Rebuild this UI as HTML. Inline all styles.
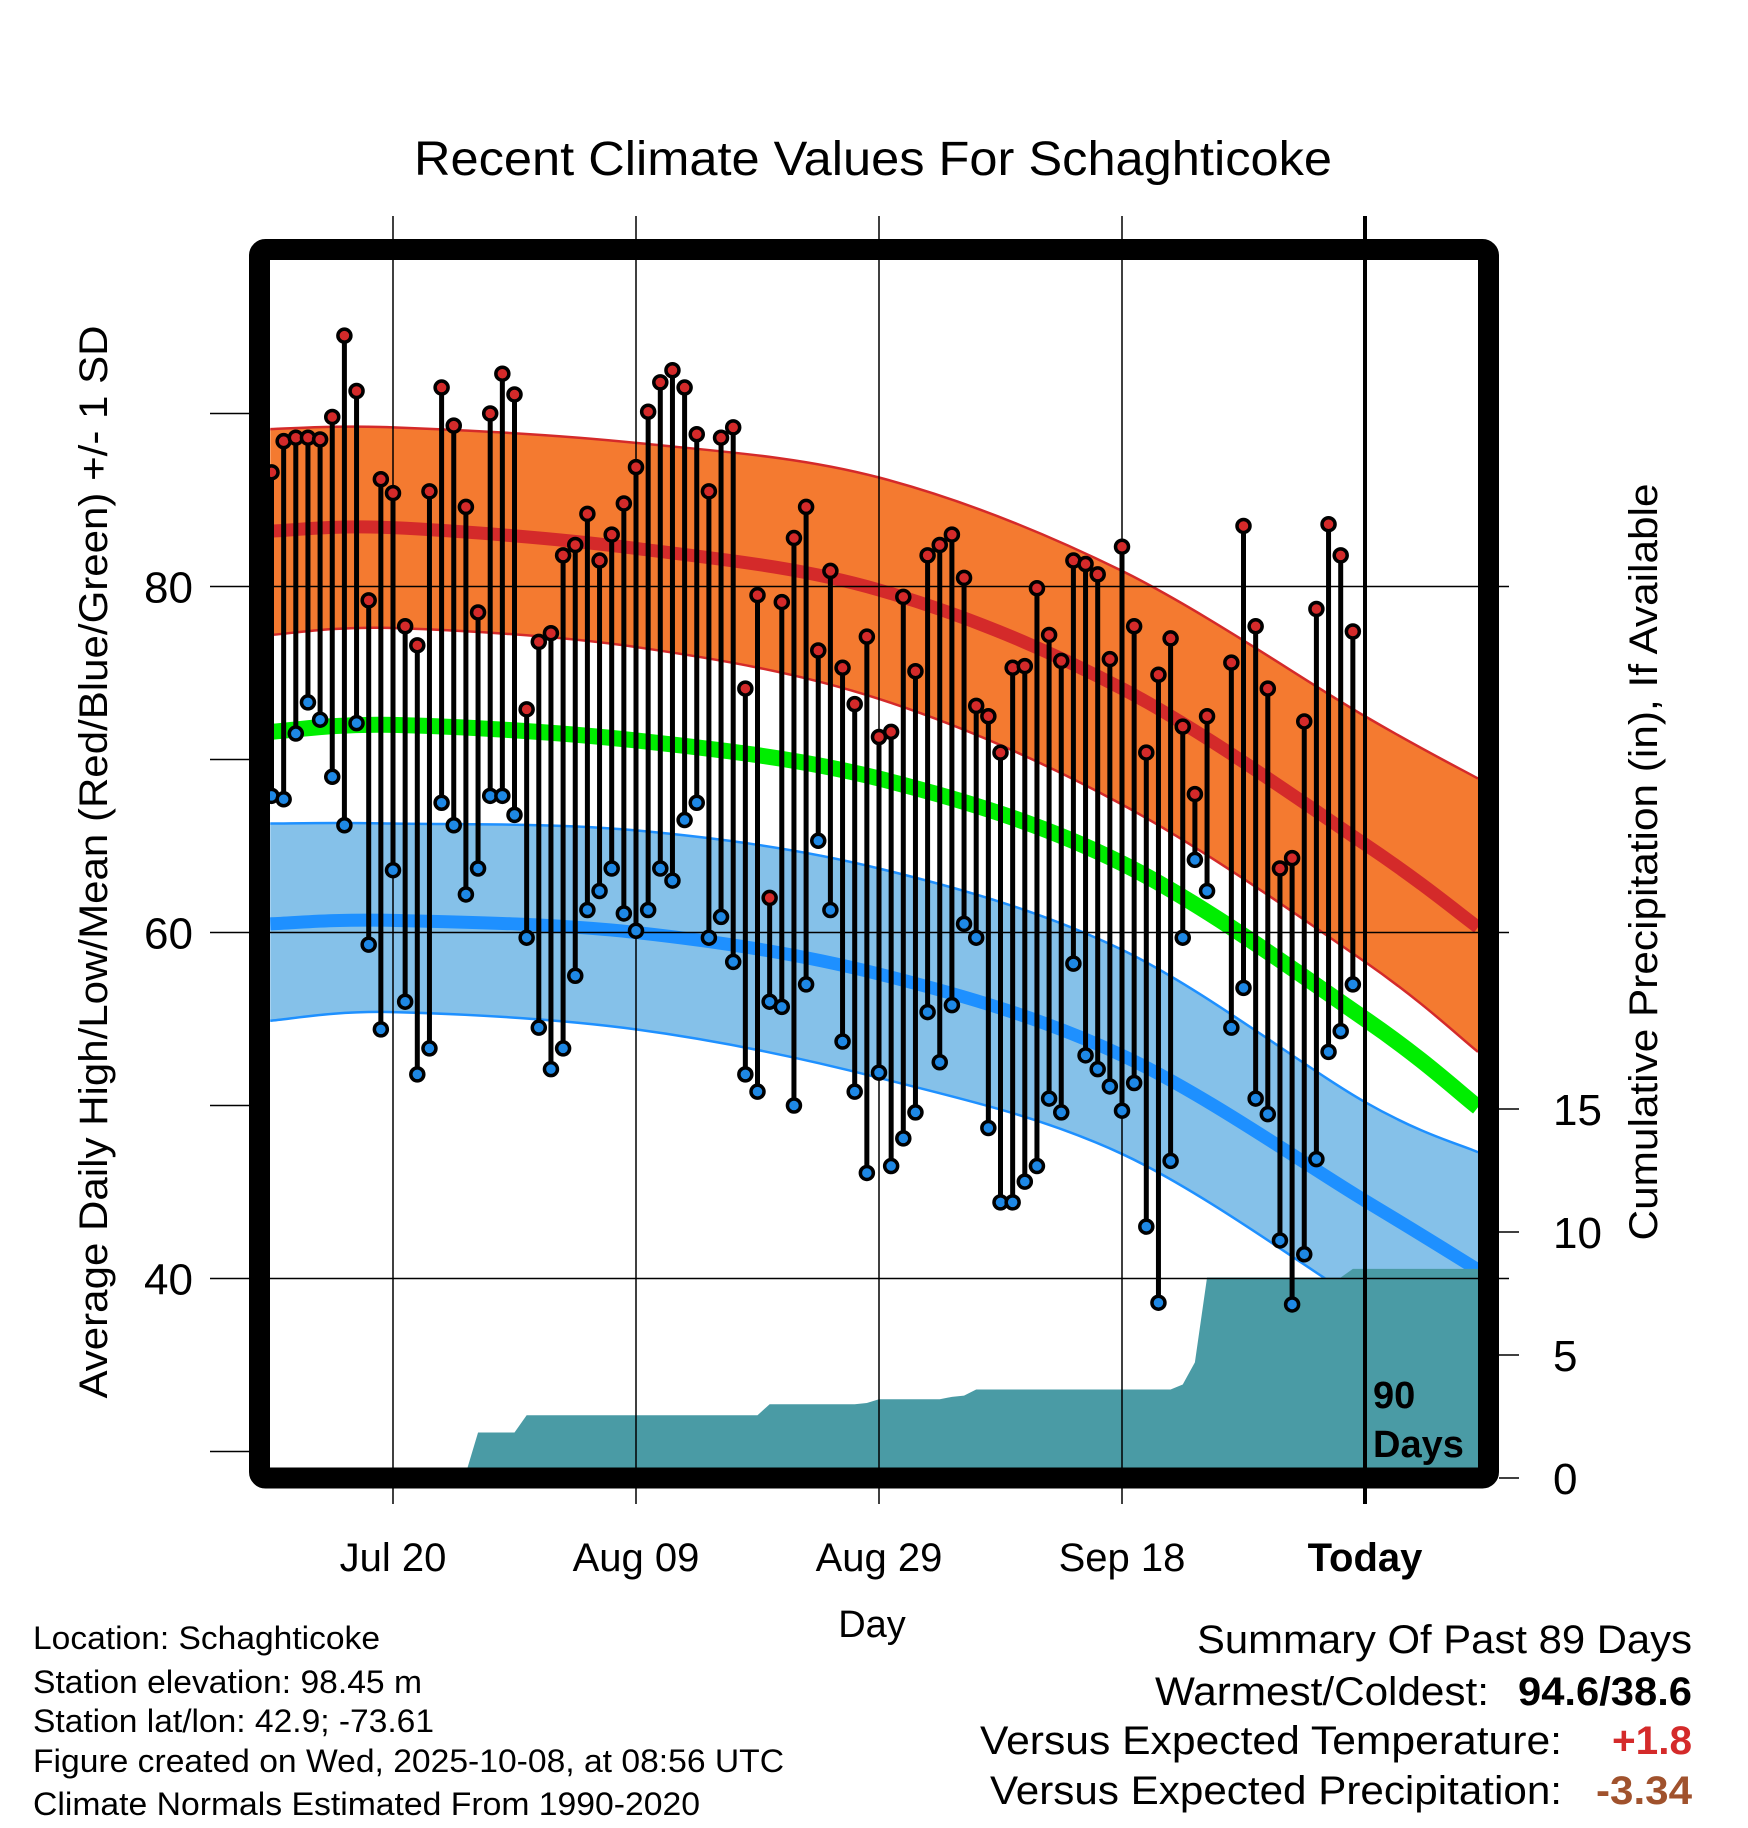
<!DOCTYPE html>
<html><head><meta charset="utf-8"><style>
html,body{margin:0;padding:0;background:#fff;}
svg{display:block;font-family:"Liberation Sans",sans-serif;}
</style></head><body>
<svg id="chart" width="1748" height="1828" viewBox="0 0 1748 1828" xmlns="http://www.w3.org/2000/svg">
<defs><clipPath id="plotclip"><rect x="270" y="260" width="1208" height="1208"/></clipPath></defs>
<rect x="0" y="0" width="1748" height="1828" fill="#fff"/>
<text x="414" y="175" font-size="48" textLength="918" lengthAdjust="spacingAndGlyphs">Recent Climate Values For Schaghticoke</text>
<g id="grid"></g>
<g id="plot" clip-path="url(#plotclip)"></g>
<g id="over"></g>
<rect x="259.5" y="249.5" width="1229" height="1228.5" rx="6" fill="none" stroke="#000" stroke-width="21"/>
<g id="axes"></g>
<text transform="translate(107,862) rotate(-90)" font-size="40" text-anchor="middle" textLength="1073" lengthAdjust="spacingAndGlyphs">Average Daily High/Low/Mean (Red/Blue/Green) +/- 1 SD</text>
<text transform="translate(1657,862) rotate(-90)" font-size="40" text-anchor="middle" textLength="757" lengthAdjust="spacingAndGlyphs">Cumulative Precipitation (in), If Available</text>
<text x="872" y="1637" font-size="38" text-anchor="middle">Day</text>
<g font-size="32">
<text x="33" y="1649" textLength="347" lengthAdjust="spacingAndGlyphs">Location: Schaghticoke</text>
<text x="33" y="1693" textLength="389" lengthAdjust="spacingAndGlyphs">Station elevation: 98.45 m</text>
<text x="33" y="1732" textLength="401" lengthAdjust="spacingAndGlyphs">Station lat/lon: 42.9; -73.61</text>
<text x="33" y="1772" textLength="751" lengthAdjust="spacingAndGlyphs">Figure created on Wed, 2025-10-08, at 08:56 UTC</text>
<text x="33" y="1815" textLength="667" lengthAdjust="spacingAndGlyphs">Climate Normals Estimated From 1990-2020</text>
</g>
<g font-size="40">
<text x="1197" y="1653" textLength="495" lengthAdjust="spacingAndGlyphs">Summary Of Past 89 Days</text>
<text x="1155" y="1705" textLength="334" lengthAdjust="spacingAndGlyphs">Warmest/Coldest:</text>
<text x="1518" y="1705" font-weight="bold" textLength="174" lengthAdjust="spacingAndGlyphs">94.6/38.6</text>
<text x="980" y="1754" textLength="582" lengthAdjust="spacingAndGlyphs">Versus Expected Temperature:</text>
<text x="1612" y="1754" font-weight="bold" fill="#d42a2a" textLength="80" lengthAdjust="spacingAndGlyphs">+1.8</text>
<text x="990" y="1804" textLength="572" lengthAdjust="spacingAndGlyphs">Versus Expected Precipitation:</text>
<text x="1596" y="1804" font-weight="bold" fill="#a0522d" textLength="96" lengthAdjust="spacingAndGlyphs">-3.34</text>
</g>
</svg>
<script>
// Daily highs/lows (deg F), index 0 = Jul 10; null = missing
const highs = [86.6,88.4,88.6,88.6,88.5,89.8,94.5,91.3,79.2,86.2,85.4,77.7,76.6,85.5,91.5,89.3,84.6,78.5,90.0,92.3,91.1,72.9,76.8,77.3,81.8,82.4,84.2,81.5,83.0,84.8,86.9,90.1,91.8,92.5,91.5,88.8,85.5,88.6,89.2,74.1,79.5,62.0,79.1,82.8,84.6,76.3,80.9,75.3,73.2,77.1,71.3,71.6,79.4,75.1,81.8,82.4,83.0,80.5,73.1,72.5,70.4,75.3,75.4,79.9,77.2,75.7,81.5,81.3,80.7,75.8,82.3,77.7,70.4,74.9,77.0,71.9,68.0,72.5,null,75.6,83.5,77.7,74.1,63.7,64.3,72.2,78.7,83.6,81.8,77.4];
const lows = [67.9,67.7,71.5,73.3,72.3,69.0,66.2,72.1,59.3,54.4,63.6,56.0,51.8,53.3,67.5,66.2,62.2,63.7,67.9,67.9,66.8,59.7,54.5,52.1,53.3,57.5,61.3,62.4,63.7,61.1,60.1,61.3,63.7,63.0,66.5,67.5,59.7,60.9,58.3,51.8,50.8,56.0,55.7,50.0,57.0,65.3,61.3,53.7,50.8,46.1,51.9,46.5,48.1,49.6,55.4,52.5,55.8,60.5,59.7,48.7,44.4,44.4,45.6,46.5,50.4,49.6,58.2,52.9,52.1,51.1,49.7,51.3,43.0,38.6,46.8,59.7,64.2,62.4,null,54.5,56.8,50.4,49.5,42.2,38.5,41.4,46.9,53.1,54.3,57.0];
// Cumulative precipitation (in) per day
const precip = [0,0,0,0,0,0,0,0,0,0,0.1,0.1,0.1,0.1,0.1,0.1,0.2,1.85,1.85,1.85,1.85,2.55,2.55,2.55,2.55,2.55,2.55,2.55,2.55,2.55,2.55,2.55,2.55,2.55,2.55,2.55,2.55,2.55,2.55,2.55,2.55,3.0,3.0,3.0,3.0,3.0,3.0,3.0,3.0,3.05,3.2,3.2,3.2,3.2,3.2,3.2,3.3,3.35,3.6,3.6,3.6,3.6,3.6,3.6,3.6,3.6,3.6,3.6,3.6,3.6,3.6,3.6,3.6,3.6,3.6,3.8,4.7,8.15,8.15,8.15,8.15,8.15,8.15,8.15,8.15,8.15,8.15,8.15,8.15,8.5];
// Normals: day offsets from Jul 20
const normDays = [-10.1,0,20,40,60,80,89.3];
const hiUpper = [89.1,89.2,88.3,86.3,80.9,72.5,68.9];
const hiMean  = [83.2,83.4,82.2,79.8,74.1,65.1,60.3];
const hiLower = [77.2,77.6,76.5,73.5,67.4,58.3,53.1];
const avgMean = [71.6,72.0,71.1,68.9,64.0,55.0,49.9];
const loUpper = [66.3,66.3,65.9,63.7,59.0,50.2,47.3];
const loMean  = [60.5,60.7,60.0,57.6,52.9,44.5,40.5];
const loLower = [54.9,55.4,54.4,51.6,47.2,38.5,34.4];
const xTickDays = [0,20,40,60,80];
const xTickLabels = ["Jul 20","Aug 09","Aug 29","Sep 18","Today"];
const yTicks = [40,60,80];
const yMinor = [30,50,70,90];
const pTicks = [0,5,10,15];

const NS = "http://www.w3.org/2000/svg";
const xDay = d => 393 + 12.15*d;
const yT = t => 932.5 - (t-60)*17.3;
const yP = p => 1478 - p*24.6;
function mk(tag, attrs, parent){ const e=document.createElementNS(NS,tag); for(const k in attrs) e.setAttribute(k,attrs[k]); parent.appendChild(e); return e; }
function smooth(pts){
  let d = "M"+pts[0][0]+","+pts[0][1];
  for(let i=0;i<pts.length-1;i++){
    const p0=pts[Math.max(0,i-1)],p1=pts[i],p2=pts[i+1],p3=pts[Math.min(pts.length-1,i+2)];
    const c1=[p1[0]+(p2[0]-p0[0])/6,p1[1]+(p2[1]-p0[1])/6];
    const c2=[p2[0]-(p3[0]-p1[0])/6,p2[1]-(p3[1]-p1[1])/6];
    d+=" C"+c1+" "+c2+" "+p2;
  }
  return d;
}
function curvePts(vals){ return normDays.map((d,i)=>[xDay(d),yT(vals[i])]); }
function bandPath(up,lo){
  const a=curvePts(up), b=curvePts(lo).reverse();
  return smooth(a)+" L"+b[0]+" "+smooth(b).slice(1)+" Z";
}
const plot=document.getElementById('plot');
const over=document.getElementById('over');
const axes=document.getElementById('axes');

let e;
e=mk('path',{d:bandPath(hiUpper,hiLower),fill:'#f47a30'},plot);


e=mk('path',{d:bandPath(loUpper,loLower),fill:'#85c1e9'},plot);


[[hiUpper,'#d42a2a',2.5],[hiLower,'#d42a2a',2.5],[loUpper,'#1e90ff',2.5],[loLower,'#1e90ff',2.5]].forEach(([v,c,w])=>{
  const l=mk('path',{d:smooth(curvePts(v)),fill:'none',stroke:c,'stroke-width':w},plot);
  
  
});
[[hiMean,'#d42a2a',13,'normal-high-line'],[avgMean,'#00ee00',16,'normal-mean-line'],[loMean,'#1e90ff',13,'normal-low-line']].forEach(([v,c,w,n])=>{
  const l=mk('path',{d:smooth(curvePts(v)),fill:'none',stroke:c,'stroke-width':w},plot);
  
  
});
yTicks.forEach(t=>{
  const l=mk('line',{x1:210,x2:1509,y1:yT(t),y2:yT(t),stroke:'#000','stroke-width':1.5},over);
  
  
});
let pd="M"+xDay(-10)+","+yP(0);
precip.forEach((p,i)=>{ pd+=" L"+xDay(i-10)+","+yP(p); });
pd+=" L1480,"+yP(precip[precip.length-1])+" L1480,"+yP(0)+" Z";
e=mk('path',{d:pd,fill:'#4a9ba5'},plot);


xTickDays.forEach((d,i)=>{
  const l=mk('line',{x1:xDay(d),x2:xDay(d),y1:216,y2:1504,stroke:'#000','stroke-width':i===4?4:1.5},over);
  
  
});
const marks=mk('g',{},over);


highs.forEach((h,i)=>{
  const lo=lows[i]; if(h===null||lo===null) return;
  const x=xDay(i-10);
  const s=mk('line',{x1:x,x2:x,y1:yT(h),y2:yT(lo),stroke:'#000','stroke-width':5},marks);
  
  
});
highs.forEach((h,i)=>{
  const lo=lows[i]; if(h===null||lo===null) return;
  const x=xDay(i-10);
  const c1=mk('circle',{cx:x,cy:yT(h),r:6.5,fill:'#d42a2a',stroke:'#000','stroke-width':3.5},marks);
  
  
  const c2=mk('circle',{cx:x,cy:yT(lo),r:6.5,fill:'#1e88e5',stroke:'#000','stroke-width':3.5},marks);
  
  
});
e=mk('text',{x:1373,y:1408,'font-size':38,'font-weight':'bold'},over); e.textContent='90';


e=mk('text',{x:1373,y:1457,'font-size':38,'font-weight':'bold'},over); e.textContent='Days';


yTicks.forEach(t=>{
  const tx=mk('text',{x:193,y:yT(t)+16,'font-size':44,'text-anchor':'end'},axes); tx.textContent=t;
  
  
});
yMinor.forEach(t=>{
  const l=mk('line',{x1:210,x2:249,y1:yT(t),y2:yT(t),stroke:'#000','stroke-width':1.5},axes);
  
  
});
pTicks.forEach(p=>{
  const l=mk('line',{x1:1499,x2:1519,y1:yP(p),y2:yP(p),stroke:'#000','stroke-width':1.5},axes);
  
  
  const tx=mk('text',{x:1553,y:yP(p)+16,'font-size':44},axes); tx.textContent=p;
  
  
});
xTickDays.forEach((d,i)=>{
  const tx=mk('text',{x:xDay(d),y:1571,'font-size':40,'text-anchor':'middle','font-weight':i===4?'bold':'normal'},axes);
  tx.textContent=xTickLabels[i];
  
  
});
</script>
</body></html>
